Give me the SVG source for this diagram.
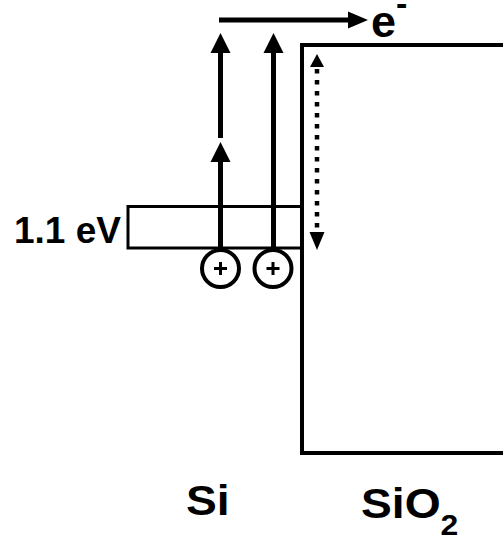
<svg xmlns="http://www.w3.org/2000/svg" width="503" height="540" viewBox="0 0 503 540">
<style>
.t{font-family:"Liberation Sans",Arial,sans-serif;font-weight:bold;fill:#000}
.thick{stroke:#000;stroke-width:5;fill:none}
.box{stroke:#000;stroke-width:4;fill:none}
.head{fill:#000}
</style>
<rect width="503" height="540" fill="#fff"/>
<g id="sio2">
<path class="box" d="M505 45 H302 V453 H505"/>
</g>
<g id="band">
<rect x="128" y="206.5" width="174" height="41.5" fill="none" stroke="#000" stroke-width="3"/>
</g>
<g id="label-gap"><text class="t" x="14" y="243" font-size="37">1.1 eV</text></g>
<g id="hole1">
<circle cx="220.5" cy="268.5" r="18.5" fill="#fff" stroke="#000" stroke-width="4"/>
<path d="M214 268.5 H227 M220.5 262 V275" stroke="#000" stroke-width="3"/>
</g>
<g id="hole2">
<circle cx="273" cy="268.5" r="18.5" fill="#fff" stroke="#000" stroke-width="4"/>
<path d="M266.5 268.5 H279.5 M273 262 V275" stroke="#000" stroke-width="3"/>
</g>
<g id="connectors">
<line class="thick" x1="220.5" y1="250" x2="220.5" y2="158"/>
<polygon class="head" points="220.5,142 210.5,162 230.5,162"/>
<line class="thick" x1="220.5" y1="138" x2="220.5" y2="49"/>
<polygon class="head" points="220.5,33 210.5,53 230.5,53"/>
<line class="thick" x1="273.5" y1="250" x2="273.5" y2="49"/>
<polygon class="head" points="273.5,33 263.5,53 283.5,53"/>
<line class="thick" x1="219" y1="20" x2="352" y2="20"/>
<polygon class="head" points="368,20 348,11.5 348,28.5"/>
<line x1="317" y1="69" x2="317" y2="232" stroke="#000" stroke-width="4.5" stroke-dasharray="4.5 6.5"/>
<polygon class="head" points="317,54 310,67 324,67"/>
<polygon class="head" points="317,250 309.5,232 324.5,232"/>
</g>
<g id="electron"><text class="t" x="371" y="37" font-size="45">e<tspan font-size="34" dy="-22">-</tspan></text></g>
<g id="label-si"><text class="t" transform="translate(186,515) scale(1.1,1)" x="0" y="0" font-size="42">Si</text></g>
<g id="label-sio2"><text class="t" transform="translate(361,518) scale(1.1,1)" x="0" y="0" font-size="42">SiO<tspan font-size="29" dy="17">2</tspan></text></g>
</svg>
